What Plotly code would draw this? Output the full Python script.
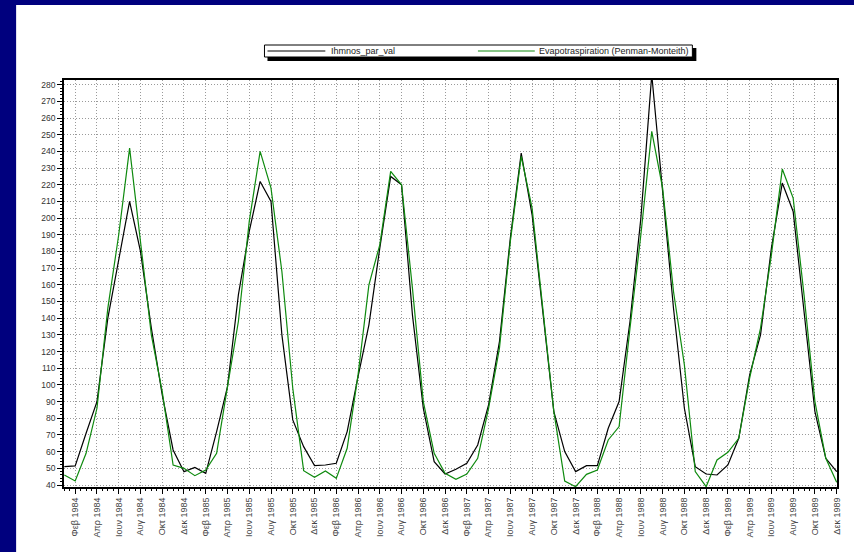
import plotly.graph_objects as go

# ---- data ----
month_names = ["Ιαν", "Φεβ", "Μαρ", "Απρ", "Μαϊ", "Ιουν", "Ιουλ", "Αυγ", "Σεπ", "Οκτ", "Νοε", "Δεκ"]
years = [1984, 1985, 1986, 1987, 1988, 1989]

ihmnos = [
    51, 51.5, 71, 90, 140, 176, 210, 180, 134, 94, 61, 48,          # 1984
    50.5, 47, 72, 99, 154, 192, 222, 210, 130, 79, 63, 51.6,        # 1985
    52, 53, 72, 105, 136, 182, 225, 220, 142, 86, 54, 46.6,         # 1986
    49.4, 53, 64, 88, 126, 188, 239, 202, 142, 84, 60, 48,          # 1987
    51.6, 51.6, 74, 90, 138, 200, 286, 216, 146, 86, 51, 46.6,      # 1988
    46, 52, 68, 106, 130, 182, 221, 204, 146, 84, 56, 48,           # 1989
]
evapo = [
    46, 42.4, 59, 86, 146, 190, 242, 186, 130, 96, 52, 50,          # 1984
    45.6, 49, 59, 99, 138, 198, 240, 218, 168, 98, 48.6, 44.6,      # 1985
    48.4, 44, 62, 106, 160, 184, 228, 220, 158, 90, 59, 47,         # 1986
    43.4, 46.6, 56, 86, 122, 186, 237, 206, 146, 84, 42.4, 39,      # 1987
    46.4, 49, 67, 75, 134, 190, 252, 218, 156, 112, 48, 39,         # 1988
    55, 59.6, 68, 104, 134, 178, 229.4, 212, 154, 90, 56, 41.6,     # 1989
]

series_names = ["Ihmnos_par_val", "Evapotraspiration (Penman-Monteith)"]
series_colors = ["#000000", "#0e8a0e"]

month_labels = [f"{m} {y}" for y in years for m in month_names]
x_idx = list(range(len(month_labels)))
tick_idx = x_idx[1::2]
tick_text = month_labels[1::2]

# ---- geometry helpers (pixel -> paper) ----
W, H = 854, 552
L, R, T, B = 64, 839, 80, 487
def px(x):
    return (x - L) / (R - L)
def py(y):
    return (B - y) / (B - T)

fig = go.Figure()
for vals, name, col in zip([ihmnos, evapo], series_names, series_colors):
    fig.add_trace(go.Scatter(x=x_idx, y=vals, mode="lines", name=name,
                             line=dict(color=col, width=1.2), showlegend=False))

shapes = [
    # white panel on the blue slide
    dict(type="rect", xref="paper", yref="paper", x0=px(16), x1=px(860), y0=py(560), y1=py(5),
         fillcolor="white", line=dict(width=0), layer="below"),
    # legend shadow and box
    dict(type="rect", xref="paper", yref="paper", x0=px(268), x1=px(698), y0=py(61), y1=py(48),
         fillcolor="black", line=dict(width=0)),
    dict(type="rect", xref="paper", yref="paper", x0=px(265), x1=px(694), y0=py(57), y1=py(45),
         fillcolor="white", line=dict(color="black", width=1)),
    dict(type="line", xref="paper", yref="paper", x0=px(268), x1=px(326), y0=py(51), y1=py(51),
         line=dict(color=series_colors[0], width=1.2)),
    dict(type="line", xref="paper", yref="paper", x0=px(479), x1=px(536), y0=py(51), y1=py(51),
         line=dict(color=series_colors[1], width=1.2)),
]
legend_font = dict(family="Liberation Sans Narrow, Liberation Sans, Arial", size=9, color="#222")
annotations = [
    dict(xref="paper", yref="paper", x=px(330), y=py(51), text=series_names[0], showarrow=False,
         xanchor="left", yanchor="middle", font=legend_font),
    dict(xref="paper", yref="paper", x=px(538), y=py(51), text=series_names[1], showarrow=False,
         xanchor="left", yanchor="middle", font=legend_font),
]

grid_style = dict(showgrid=True, gridcolor="#9a9a9a", griddash="1px,2px", gridwidth=1)

fig.update_layout(
    width=W, height=H,
    margin=dict(l=L, r=W - R, t=T, b=H - B, pad=0),
    paper_bgcolor="#00007e",
    plot_bgcolor="white",
    showlegend=False,
    shapes=shapes,
    annotations=annotations,
    font=dict(family="Liberation Sans, Arial", size=8, color="#333"),
)
fig.update_xaxes(
    range=[-0.03, 71.03],
    tickmode="array", tickvals=tick_idx, ticktext=tick_text,
    tickangle=-90, ticks="outside", ticklen=5, tickcolor="black",
    tickfont=dict(family="Liberation Sans, Arial", size=9, color="#444"),
    showline=True, linecolor="black", linewidth=2, mirror=True,
    minor=dict(tick0=0, dtick=0.5, ticks="outside", ticklen=2, tickcolor="black", showgrid=False),
    zeroline=False,
    **grid_style,
)
fig.update_yaxes(
    range=[38.8, 282.8],
    tick0=0, dtick=10, ticks="outside", ticklen=5, tickcolor="black",
    tickfont=dict(family="Liberation Sans, Arial", size=8.5, color="#333"),
    showline=True, linecolor="black", linewidth=1.5, mirror=True,
    minor=dict(tick0=0, dtick=2, ticks="outside", ticklen=2, tickcolor="black", showgrid=False),
    zeroline=False,
    **grid_style,
)

fig.write_html("out.html")
